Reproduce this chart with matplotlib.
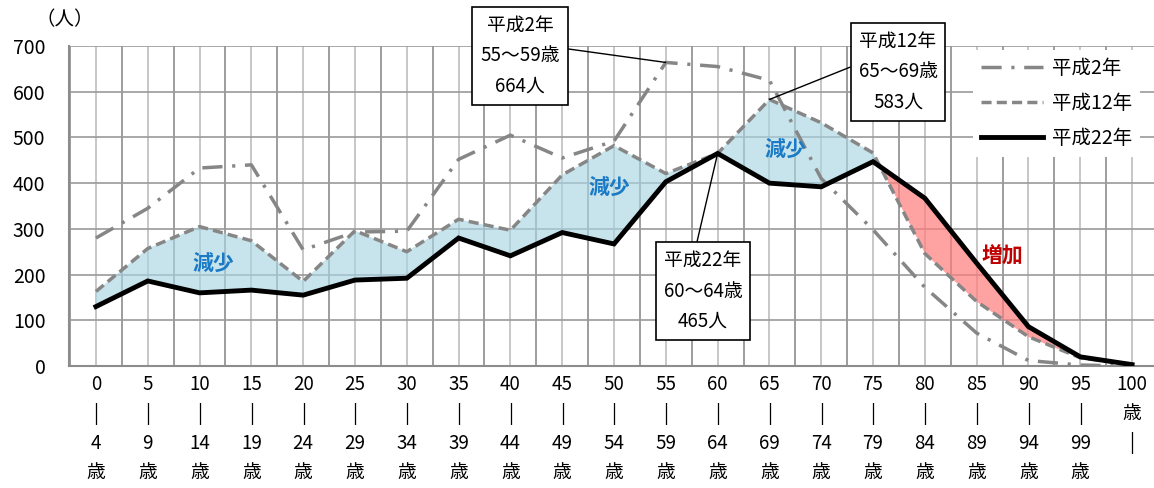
import numpy as np
import matplotlib
matplotlib.use("Agg")
from matplotlib import pyplot as plt

plt.rcParams['font.family'] = ['Noto Sans CJK JP', 'DejaVu Sans']

# age groups (5-year bands), population by census year
ages = ["0\n|\n4\n歳", "5\n|\n9\n歳", "10\n|\n14\n歳", "15\n|\n19\n歳", "20\n|\n24\n歳",
        "25\n|\n29\n歳", "30\n|\n34\n歳", "35\n|\n39\n歳", "40\n|\n44\n歳", "45\n|\n49\n歳",
        "50\n|\n54\n歳", "55\n|\n59\n歳", "60\n|\n64\n歳", "65\n|\n69\n歳", "70\n|\n74\n歳",
        "75\n|\n79\n歳", "80\n|\n84\n歳", "85\n|\n89\n歳", "90\n|\n94\n歳", "95\n|\n99\n歳",
        "100\n歳\n|"]
h2 = [280, 345, 433, 440, 254, 293, 295, 452, 505, 455, 492, 664, 655, 625, 410, 298, 172, 72, 12, 2, 0]
h12 = [163, 257, 305, 274, 185, 296, 250, 321, 297, 418, 482, 421, 465, 583, 532, 466, 246, 141, 64, 18, 3]
h22 = [130, 186, 160, 166, 155, 188, 192, 280, 241, 292, 267, 403, 465, 400, 392, 447, 367, 225, 86, 20, 3]
series_names = ["平成2年", "平成12年", "平成22年"]
yticks = [0, 100, 200, 300, 400, 500, 600, 700]

x = np.arange(len(ages))
a12 = np.array(h12, dtype=float)
a22 = np.array(h22, dtype=float)

fig = plt.figure(figsize=(11.54, 4.88), dpi=100)
ax = fig.add_axes([69/1154, 1-366/488, 1089/1154, 320/488])
ax.set_xlim(-0.52, 20.5)
ax.set_ylim(0, 700)

# grid: darker lines on band edges, lighter ones through the points
for xb in np.arange(-0.5, 21, 1):
    ax.axvline(xb, color='#8c8c8c', lw=1.2, zorder=0)
for xc in x:
    ax.axvline(xc, color='#bdbdbd', lw=1.2, zorder=0)
for yv in yticks[1:]:
    ax.axhline(yv, color='#9a9a9a', lw=1.2, zorder=0)

# decrease / increase areas between 平成12年 and 平成22年
ax.fill_between(x, a12, a22, where=a12 >= a22, interpolate=True,
                color='#a9d5e3', alpha=0.65, lw=0, zorder=1)
ax.fill_between(x, a12, a22, where=a22 > a12, interpolate=True,
                color='#ff7b7b', alpha=0.7, lw=0, zorder=1)

l1, = ax.plot(x, h2, color='#868686', lw=2.5, ls=(0, (5.8, 2.8, 0.9, 2.8)), zorder=3)
l2, = ax.plot(x, h12, color='#868686', lw=2.5, ls=(0, (2.9, 1.5)), zorder=3)
l3, = ax.plot(x, h22, color='black', lw=3.5, solid_joinstyle='miter', zorder=4)

ax.set_yticks(yticks)
ax.set_xticks(x)
ax.set_xticklabels(ages, fontsize=13.5, linespacing=1.5)
ax.tick_params(axis='x', length=0, pad=6)
ax.tick_params(axis='y', length=0, pad=17, labelsize=14)
for s in ['top', 'right']:
    ax.spines[s].set_visible(False)
for s in ['left', 'bottom']:
    ax.spines[s].set_color('#8c8c8c')
    ax.spines[s].set_linewidth(1.5)

fig.text(65/1154, 1-20/488, "（人）", fontsize=14, ha='center', va='center')

ax.text(2.27, 225, "減少", color='#1a7ac6', fontsize=15, fontweight='bold', ha='center', va='center')
ax.text(9.9, 390, "減少", color='#1a7ac6', fontsize=15, fontweight='bold', ha='center', va='center')
ax.text(13.3, 473, "減少", color='#1a7ac6', fontsize=15, fontweight='bold', ha='center', va='center')
ax.text(17.5, 240, "増加", color='#c00000', fontsize=15, fontweight='bold', ha='center', va='center')

box = dict(boxstyle='square,pad=0.42', fc='white', ec='black', lw=1.2)
arrow = dict(arrowstyle='-', color='black', lw=1, shrinkA=0, shrinkB=0)
ax.annotate("平成2年\n55～59歳\n664人", xy=(11, h2[11]), xytext=(520/1154, 1-56/488),
            textcoords='figure fraction', ha='center', va='center', fontsize=13.5,
            linespacing=1.6, bbox=box, arrowprops=dict(arrow, relpos=(1, 0.6)), zorder=6)
ax.annotate("平成12年\n65～69歳\n583人", xy=(13, h12[13]), xytext=(898/1154, 1-72/488),
            textcoords='figure fraction', ha='center', va='center', fontsize=13.5,
            linespacing=1.6, bbox=box, arrowprops=dict(arrow, relpos=(0, 0.6)), zorder=6)
ax.annotate("平成22年\n60～64歳\n465人", xy=(12, h22[12]), xytext=(703/1154, 1-291/488),
            textcoords='figure fraction', ha='center', va='center', fontsize=13.5,
            linespacing=1.6, bbox=box, arrowprops=dict(arrow, relpos=(0.4, 1)), zorder=6)

leg = ax.legend([l1, l2, l3], series_names, loc='upper right',
                bbox_to_anchor=(1140/1154, 1-50/488), bbox_transform=fig.transFigure,
                fontsize=14, handlelength=3.2, handletextpad=0.45, labelspacing=0.72,
                frameon=True, fancybox=False, borderaxespad=0)
leg.get_frame().set_facecolor('white')
leg.get_frame().set_edgecolor('none')
leg.get_frame().set_alpha(1)
leg.set_zorder(7)

fig.savefig('out.png', dpi=100)
